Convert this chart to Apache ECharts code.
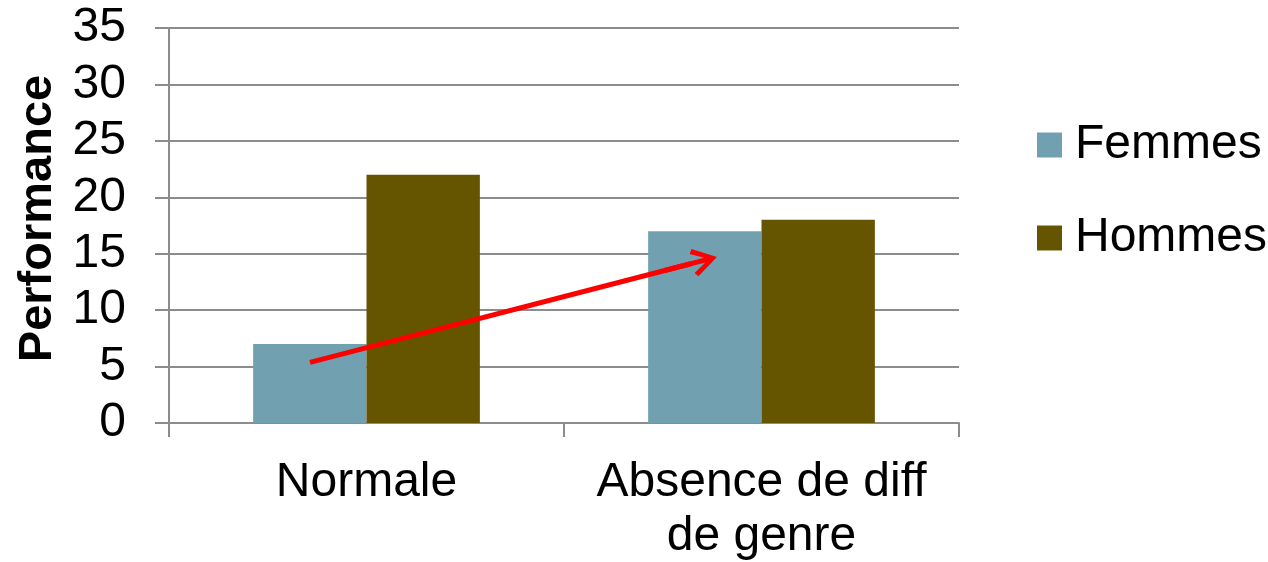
<!DOCTYPE html>
<html>
<head>
<meta charset="utf-8">
<script src="https://cdn.jsdelivr.net/npm/echarts@6/dist/echarts.min.js"></script>
<style>
html,body{margin:0;padding:0;background:#fff;}
#chart{width:1268px;height:562px;}
</style>
</head>
<body>
<div id="chart"></div>
<script>
const categories = ['Normale', 'Absence de diff\nde genre'];
const femmes = [7, 17];
const hommes = [22, 18];
const seriesNames = ['Femmes', 'Hommes'];
const yTicks = { min: 0, max: 35, interval: 5 };
// arrow annotation, in (category-position, value) units: tail and shaft end (head drawn as end symbol)
const arrowFrom = [0.357, 5.37];
const arrowTo = [1.321, 14.11];

const FONT = "'Liberation Sans', Arial, sans-serif";
const GRID = '#8c8c8c';
const ARROW_HEAD = 'path://M50,0 L100,84 L85,95 L59,46.7 L59,200 L41,200 L41,46.7 L15,95 L0,84 Z';

const chart = echarts.init(document.getElementById('chart'), null, { renderer: 'canvas' });
chart.setOption({
  animation: false,
  backgroundColor: '#ffffff',
  grid: { left: 169, right: 309, top: 28, bottom: 139, containLabel: false, outerBoundsMode: 'none' },
  legend: {
    data: seriesNames,
    orient: 'vertical',
    left: 1037,
    top: 121,
    padding: 0,
    itemWidth: 25,
    itemHeight: 25,
    itemGap: 45,
    icon: 'rect',
    textStyle: { fontFamily: FONT, fontSize: 48, color: '#000', lineHeight: 46, padding: [2, 0, 0, 8] }
  },
  xAxis: [
    {
      type: 'category',
      data: categories,
      axisLine: { lineStyle: { color: GRID, width: 2 } },
      axisTick: { show: true, length: 14, lineStyle: { color: GRID, width: 2 } },
      axisLabel: { fontFamily: FONT, fontSize: 48, color: '#000', margin: 33, lineHeight: 54, interval: 0 }
    },
    {
      type: 'value', min: 0, max: 2, show: false
    }
  ],
  yAxis: {
    type: 'value',
    min: yTicks.min, max: yTicks.max, interval: yTicks.interval,
    name: 'Performance',
    nameLocation: 'middle',
    nameRotate: 90,
    nameGap: 106,
    nameTextStyle: { fontFamily: FONT, fontSize: 47, fontWeight: 'bold', color: '#000', padding: [0, 0, 0, 14] },
    axisLine: { show: true, lineStyle: { color: GRID, width: 2 } },
    axisTick: { show: true, length: 14, lineStyle: { color: GRID, width: 2 } },
    axisLabel: { fontFamily: FONT, fontSize: 48, color: '#000', margin: 43 },
    splitLine: { show: true, lineStyle: { color: GRID, width: 2 } }
  },
  series: [
    {
      name: seriesNames[0], type: 'bar', data: femmes,
      barGap: '0%', barCategoryGap: '42.6%',
      itemStyle: { color: '#71A1B0' }
    },
    {
      name: seriesNames[1], type: 'bar', data: hommes,
      barGap: '0%', barCategoryGap: '42.6%',
      itemStyle: { color: '#665500' }
    },
    {
      name: 'arrow', type: 'line', xAxisIndex: 1,
      data: [arrowFrom, arrowTo],
      symbol: 'none',
      lineStyle: { opacity: 0 },
      silent: true,
      z: 10,
      markLine: {
        silent: true,
        animation: false,
        symbol: ['none', ARROW_HEAD],
        symbolSize: [28, 54],
        label: { show: false },
        lineStyle: { color: '#ff0000', width: 5, type: 'solid', cap: 'butt' },
        emphasis: { disabled: true },
        data: [[{ coord: arrowFrom }, { coord: arrowTo }]]
      }
    }
  ]
});
</script>
</body>
</html>
